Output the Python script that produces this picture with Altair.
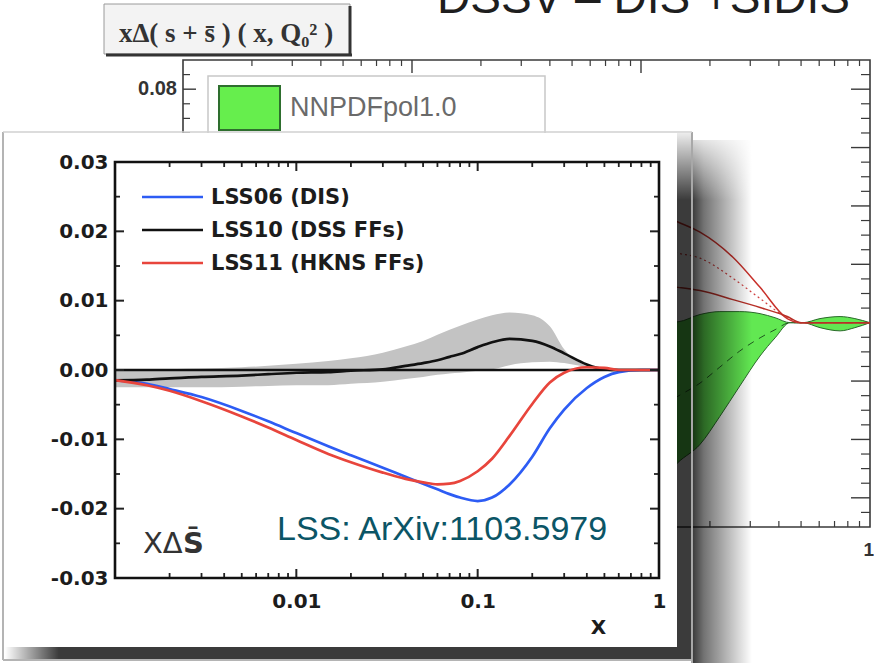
import altair as alt
import pandas as pd

# ---------------- LSS panel: x grid and curves ----------------
x_grid = [0.001, 0.0015, 0.002, 0.003, 0.005, 0.007, 0.01, 0.015, 0.02, 0.03,
          0.04, 0.05, 0.06, 0.07, 0.08, 0.1, 0.12, 0.15, 0.2, 0.25, 0.3, 0.4,
          0.5, 0.6, 0.8, 1.0]
lss06_dis = [-0.00145, -0.0020, -0.00275, -0.0039, -0.0059, -0.0074, -0.0091, -0.0110, -0.0123, -0.0141,
             -0.0154, -0.0164, -0.0172, -0.0179, -0.0184, -0.0189, -0.0184, -0.0165, -0.0125, -0.0084,
             -0.0057, -0.0026, -0.0010, -0.0003, 0.0, 0.0]
lss10_dss = [-0.0015, -0.0014, -0.0012, -0.0010, -0.0008, -0.0006, -0.0004, -0.0003, -0.0001, 0.0001,
             0.0006, 0.0010, 0.0014, 0.0019, 0.0023, 0.0033, 0.0040, 0.0045, 0.0042, 0.0034,
             0.0024, 0.0008, 0.0001, 0.0, 0.0, 0.0]
lss11_hkns = [-0.00145, -0.0022, -0.0030, -0.0045, -0.0067, -0.0083, -0.0101, -0.0121, -0.0133, -0.0148,
              -0.0157, -0.0162, -0.0165, -0.0164, -0.0160, -0.0146, -0.0128, -0.0095, -0.0049, -0.0018,
              -0.0004, 0.0004, 0.0003, 0.0, 0.0, 0.0]
lss10_band_hi = [0.0, 0.0, 0.0001, 0.0002, 0.0004, 0.0006, 0.0009, 0.0013, 0.0017, 0.0025,
                 0.0034, 0.0042, 0.0051, 0.0058, 0.0064, 0.0073, 0.0079, 0.0083, 0.0079, 0.0063,
                 0.0030, 0.0006, 0.0001, 0.0, 0.0, 0.0]
lss10_band_lo = [-0.0025, -0.0025, -0.0025, -0.0025, -0.0024, -0.0023, -0.0022, -0.0022, -0.0020, -0.0017,
                 -0.0013, -0.0010, -0.0007, -0.0005, -0.0004, -0.0001, 0.0001, 0.0007, 0.0011, 0.0012,
                 0.0010, 0.0004, 0.0, 0.0, 0.0, 0.0]
series_names = ["LSS06 (DIS)", "LSS10 (DSS FFs)", "LSS11 (HKNS FFs)"]
series_colors = ["#2d5cf4", "#111111", "#e8453c"]
y_tick_values = [-0.03, -0.02, -0.01, 0.0, 0.01, 0.02, 0.03]
y_minor_values = [-0.025, -0.015, -0.005, 0.005, 0.015, 0.025]
x_tick_values = [0.01, 0.1, 1.0]
x_minor_values = [0.002, 0.003, 0.004, 0.005, 0.006, 0.007, 0.008, 0.009,
                  0.02, 0.03, 0.04, 0.05, 0.06, 0.07, 0.08, 0.09,
                  0.2, 0.3, 0.4, 0.5, 0.6, 0.7, 0.8, 0.9]

# ---------------- background slide plot (NNPDF / DSSV) ----------------
nnpdf_x = [0.1, 0.121, 0.145, 0.181, 0.221, 0.270, 0.331, 0.385, 0.448, 0.509, 0.605, 0.740, 0.859, 1.0]
nnpdf_hi = [0.0, 0.0, 0.0003, 0.0028, 0.0038, 0.0038, 0.0031, 0.0017, 0.0, 0.0, 0.0014, 0.0021, 0.0014, 0.0]
nnpdf_lo = [-0.059, -0.0545, -0.0479, -0.0417, -0.0321, -0.0217, -0.0114, -0.0052, 0.0, 0.0,
            -0.0017, -0.0028, -0.0017, 0.0]
nnpdf_mid_x = [0.1, 0.145, 0.181, 0.221, 0.270, 0.331, 0.385, 0.448, 0.6, 1.0]
nnpdf_mid = [-0.033, -0.0252, -0.0207, -0.0152, -0.0097, -0.0052, -0.0024, 0.0, 0.0, 0.0]
dssv_x = [0.1, 0.121, 0.145, 0.181, 0.252, 0.331, 0.435, 0.5, 0.7, 1.0]
dssv_upper = [0.0403, 0.0372, 0.0345, 0.0310, 0.0224, 0.0121, 0.0014, 0.0, 0.0, 0.0]
dssv_central = [0.0266, 0.0252, 0.0238, 0.0221, 0.0152, 0.0083, 0.0017, 0.0, 0.0, 0.0]
dssv_lower = [0.0138, 0.0128, 0.0121, 0.0110, 0.0079, 0.0052, 0.0021, 0.0, 0.0, 0.0]
bg_y_major = [-0.06, -0.04, -0.02, 0.0, 0.02, 0.04, 0.06, 0.08]
bg_y_minor = [-0.065, -0.055, -0.05, -0.045, -0.035, -0.03, -0.025, -0.015, -0.01, -0.005,
              0.005, 0.01, 0.015, 0.025, 0.03, 0.035, 0.045, 0.05, 0.055, 0.065, 0.07, 0.075, 0.085]
bg_x_major = [0.01, 0.1]

# ---------------- layout constants ----------------
OX, OY = 115, 162      # page position of the LSS plot area
W, H = 544, 416
FONT = "DejaVu Sans"

one = pd.DataFrame({"k": [0]})


def deco_rect(x1, y1, x2, y2, **kw):
    return alt.Chart(one).mark_rect(**kw).encode(
        x=alt.value(x1 - OX), x2=alt.value(x2 - OX),
        y=alt.value(y1 - OY), y2=alt.value(y2 - OY))


def deco_rule(x1, y1, x2, y2, **kw):
    return alt.Chart(one).mark_rule(**kw).encode(
        x=alt.value(x1 - OX), x2=alt.value(x2 - OX),
        y=alt.value(y1 - OY), y2=alt.value(y2 - OY))


def deco_text(s, x, y, **kw):
    return alt.Chart(one).mark_text(text=s, **kw).encode(
        x=alt.value(x - OX), y=alt.value(y - OY))


def grad(stops, horizontal=True):
    return alt.LinearGradient(
        gradient="linear",
        stops=[alt.GradientStop(color=c, offset=o) for o, c in stops],
        x1=0, y1=0, x2=1 if horizontal else 0, y2=0 if horizontal else 1)


# ======================= background plot =======================
bgx = alt.Scale(type="log", domain=[0.001, 1], range=[183 - OX, 870 - OX], nice=False)
bgy = alt.Scale(domain=[-0.07, 0.09], range=[527 - OY, 60 - OY], nice=False, zero=False)
BGC = "#3a3a3a"

bg_title = deco_text("DSSV – DIS +SIDIS", 437, 13, align="left", baseline="alphabetic",
                     font="Liberation Sans", fontSize=46, color="#1e1e1e")
bg_box = deco_rect(104, 4, 350, 54, fill="#f3f3f3", stroke="#9a9a9a", strokeWidth=1)
bg_box_r = deco_rule(350, 6, 350, 56, color="#333333", strokeWidth=3)
bg_box_b = deco_rule(106, 55, 352, 55, color="#333333", strokeWidth=3)
bg_box_txt = deco_text("xΔ( s + s\u0304 ) ( x, Q\u2080\u00b2 )", 226, 42, align="center",
                       baseline="alphabetic", font="Liberation Serif", fontWeight="bold",
                       fontSize=27, color="#333333")

bg_frame = alt.Chart(pd.DataFrame({"x0": [0.001], "x1": [1.0], "y0": [-0.07], "y1": [0.09]})).mark_rect(
    fillOpacity=0, stroke=BGC, strokeWidth=1.6).encode(
    x=alt.X("x0:Q", scale=bgx, axis=None), x2="x1",
    y=alt.Y("y0:Q", scale=bgy, axis=None), y2="y1")

bg_minor_df = pd.DataFrame({"v": x_minor_values})
bg_major_df = pd.DataFrame({"v": bg_x_major})
bg_top_minor = alt.Chart(bg_minor_df).mark_rule(color=BGC, strokeWidth=1.2).encode(
    x=alt.X("v:Q", scale=bgx, axis=None), y=alt.value(60 - OY), y2=alt.value(66 - OY))
bg_top_major = alt.Chart(bg_major_df).mark_rule(color=BGC, strokeWidth=1.4).encode(
    x=alt.X("v:Q", scale=bgx, axis=None), y=alt.value(60 - OY), y2=alt.value(73 - OY))
bg_bot_minor = alt.Chart(bg_minor_df).mark_rule(color=BGC, strokeWidth=1.2).encode(
    x=alt.X("v:Q", scale=bgx, axis=None), y=alt.value(527 - OY), y2=alt.value(521 - OY))
bgy_major_df = pd.DataFrame({"v": bg_y_major})
bgy_minor_df = pd.DataFrame({"v": bg_y_minor})
bg_right_major = alt.Chart(bgy_major_df).mark_rule(color=BGC, strokeWidth=1.4).encode(
    y=alt.Y("v:Q", scale=bgy, axis=None), x=alt.value(851 - OX), x2=alt.value(870 - OX))
bg_right_minor = alt.Chart(bgy_minor_df).mark_rule(color=BGC, strokeWidth=1.2).encode(
    y=alt.Y("v:Q", scale=bgy, axis=None), x=alt.value(861 - OX), x2=alt.value(870 - OX))
bg_left_major = alt.Chart(bgy_major_df).mark_rule(color=BGC, strokeWidth=1.4).encode(
    y=alt.Y("v:Q", scale=bgy, axis=None), x=alt.value(183 - OX), x2=alt.value(196 - OX))
bg_left_minor = alt.Chart(bgy_minor_df).mark_rule(color=BGC, strokeWidth=1.2).encode(
    y=alt.Y("v:Q", scale=bgy, axis=None), x=alt.value(183 - OX), x2=alt.value(190 - OX))
bg_lab_y = alt.Chart(pd.DataFrame({"v": [0.08]})).mark_text(
    text="0.08", align="right", baseline="middle", font="Liberation Sans", fontWeight="bold",
    fontSize=20, color="#333333", dx=-6).encode(
    y=alt.Y("v:Q", scale=bgy, axis=None), x=alt.value(183 - OX))
bg_lab_x = alt.Chart(pd.DataFrame({"v": [1.0]})).mark_text(
    text="1", align="right", baseline="middle", font="Liberation Sans", fontWeight="bold",
    fontSize=19, color="#333333", dx=4).encode(
    x=alt.X("v:Q", scale=bgx, axis=None), y=alt.value(550 - OY))

nn_df = pd.DataFrame({"x": nnpdf_x, "hi": nnpdf_hi, "lo": nnpdf_lo})
bg_green = alt.Chart(nn_df).mark_area(
    color="#62e852", opacity=1, interpolate="monotone", stroke="#2a6a2a", strokeWidth=1).encode(
    x=alt.X("x:Q", scale=bgx, axis=None), y=alt.Y("lo:Q", scale=bgy, axis=None), y2="hi")
bg_green_mid = alt.Chart(pd.DataFrame({"x": nnpdf_mid_x, "y": nnpdf_mid})).mark_line(
    color="#1f5a1f", strokeWidth=1, strokeDash=[7, 6], interpolate="monotone").encode(
    x=alt.X("x:Q", scale=bgx, axis=None), y=alt.Y("y:Q", scale=bgy, axis=None))

dssv_df = pd.DataFrame({"x": dssv_x, "up": dssv_upper, "mid": dssv_central, "lo": dssv_lower})
bg_red_up = alt.Chart(dssv_df).mark_line(color="#c8302a", strokeWidth=1.5, interpolate="monotone").encode(
    x=alt.X("x:Q", scale=bgx, axis=None), y=alt.Y("up:Q", scale=bgy, axis=None))
bg_red_mid = alt.Chart(dssv_df).mark_line(color="#d04040", strokeWidth=1.2, strokeDash=[2, 3],
                                          interpolate="monotone").encode(
    x=alt.X("x:Q", scale=bgx, axis=None), y=alt.Y("mid:Q", scale=bgy, axis=None))
bg_red_lo = alt.Chart(dssv_df).mark_line(color="#b83028", strokeWidth=1.5, interpolate="monotone").encode(
    x=alt.X("x:Q", scale=bgx, axis=None), y=alt.Y("lo:Q", scale=bgy, axis=None))

bg_leg_box = deco_rect(208, 76, 545, 220, fill="white", stroke="#c8c8c8", strokeWidth=1.5)
bg_leg_sw = deco_rect(219, 86, 280, 130, fill="#66ee4d", stroke="#2e6e2e", strokeWidth=2)
bg_leg_txt = deco_text("NNPDFpol1.0", 290, 108, align="left", baseline="middle",
                       font="Liberation Sans", fontSize=27, color="#6a6a6a")

background = alt.layer(
    bg_title, bg_box, bg_box_r, bg_box_b, bg_box_txt,
    bg_frame, bg_top_minor, bg_top_major, bg_bot_minor, bg_right_major, bg_right_minor,
    bg_left_major, bg_left_minor, bg_lab_y, bg_lab_x,
    bg_green, bg_green_mid, bg_red_up, bg_red_mid, bg_red_lo,
    bg_leg_box, bg_leg_sw, bg_leg_txt)

# ======================= picture frame / shadow =======================
shadow_out = deco_rect(692, 140, 752, 663, fill=grad([(0, "rgba(0,0,0,0.78)"), (0.2, "rgba(0,0,0,0.55)"),
                                                       (1, "rgba(0,0,0,0)")]))
shadow_right = deco_rect(677, 133, 692, 660, fill="rgba(0,0,0,0.77)")
shadow_bottom = deco_rect(5, 647, 677, 660, fill=grad([(0, "rgba(0,0,0,0)"), (0.08, "rgba(0,0,0,0.77)"),
                                                         (1, "rgba(0,0,0,0.77)")]))
shadow_fade = deco_rect(676, 126, 757, 200, fill=grad([(0, "rgba(255,255,255,1)"),
                                                         (1, "rgba(255,255,255,0)")], horizontal=False))
panel = deco_rect(5, 133, 677, 647, fill="white")
fr_left = deco_rule(3, 132, 3, 660, color="#b4b4b4", strokeWidth=2)
fr_right = deco_rule(692, 132, 692, 663, color="#a8a8a8", strokeWidth=2)
fr_bottom = deco_rule(3, 660, 692, 660, color="#b4b4b4", strokeWidth=2)
fr_top = deco_rule(3, 132, 692, 132, color="#d0d0d0", strokeWidth=1.5)

decor = alt.layer(shadow_out, shadow_right, shadow_bottom, shadow_fade, panel,
                  fr_left, fr_right, fr_bottom, fr_top)

# ======================= LSS plot =======================
mx = alt.Scale(type="log", domain=[0.001, 1], nice=False)
my = alt.Scale(domain=[-0.03, 0.03], nice=False, zero=False)
xax = alt.Axis(values=x_tick_values, labelExpr="format(datum.value, '~g')", ticks=False, tickSize=0,
               domain=False, grid=False, labelFont=FONT, labelFontWeight="bold", labelFontSize=20,
               labelColor="#1c1c1c", labelPadding=13, labelFlush=False, labelOverlap=False,
               title="X", titleFont=FONT, titleFontWeight="bold", titleFontSize=20, titleColor="#1c1c1c",
               titleX=483, titleY=55, titleAlign="center", titleBaseline="alphabetic", zindex=1)
yax = alt.Axis(values=y_tick_values,
               labelExpr="datum.value < 0 ? '-' + format(-datum.value, '.2f') : format(datum.value, '.2f')",
               ticks=False, tickSize=0, domain=False, grid=False, labelFont=FONT, labelFontWeight="bold",
               labelFontSize=20, labelColor="#1c1c1c", labelPadding=7, title=None, zindex=1)

band_df = pd.DataFrame({"x": x_grid, "hi": lss10_band_hi, "lo": lss10_band_lo})
band = alt.Chart(band_df).mark_area(color="#c3c3c3", opacity=1, interpolate="monotone").encode(
    x=alt.X("x:Q", scale=mx, axis=xax), y=alt.Y("lo:Q", scale=my, axis=yax), y2="hi")

zero = alt.Chart(pd.DataFrame({"v": [0.0]})).mark_rule(color="#111111", strokeWidth=2.4).encode(
    y=alt.Y("v:Q", scale=my, axis=yax))

rows = []
for name, vals in zip(series_names, [lss06_dis, lss10_dss, lss11_hkns]):
    for xv, yv in zip(x_grid, vals):
        rows.append({"series": name, "x": xv, "y": yv})
lines_df = pd.DataFrame(rows)
lines = alt.Chart(lines_df).mark_line(strokeWidth=2.7, interpolate="monotone").encode(
    x=alt.X("x:Q", scale=mx, axis=xax), y=alt.Y("y:Q", scale=my, axis=yax),
    color=alt.Color("series:N", scale=alt.Scale(domain=series_names, range=series_colors), legend=None))

TC = "#222222"
xmaj_df = pd.DataFrame({"v": x_tick_values[:-1]})
xmin_df = pd.DataFrame({"v": x_minor_values})
ymaj_df = pd.DataFrame({"v": y_tick_values[1:-1]})
ymin_df = pd.DataFrame({"v": y_minor_values})
ticks = [
    alt.Chart(xmaj_df).mark_rule(color=TC, strokeWidth=2).encode(
        x=alt.X("v:Q", scale=mx, axis=xax), y=alt.value(H), y2=alt.value(H - 9)),
    alt.Chart(xmaj_df).mark_rule(color=TC, strokeWidth=2).encode(
        x=alt.X("v:Q", scale=mx, axis=xax), y=alt.value(0), y2=alt.value(9)),
    alt.Chart(xmin_df).mark_rule(color=TC, strokeWidth=1.8).encode(
        x=alt.X("v:Q", scale=mx, axis=xax), y=alt.value(H), y2=alt.value(H - 5)),
    alt.Chart(xmin_df).mark_rule(color=TC, strokeWidth=1.8).encode(
        x=alt.X("v:Q", scale=mx, axis=xax), y=alt.value(0), y2=alt.value(5)),
    alt.Chart(ymaj_df).mark_rule(color=TC, strokeWidth=2).encode(
        y=alt.Y("v:Q", scale=my, axis=yax), x=alt.value(0), x2=alt.value(9)),
    alt.Chart(ymaj_df).mark_rule(color=TC, strokeWidth=2).encode(
        y=alt.Y("v:Q", scale=my, axis=yax), x=alt.value(W - 9), x2=alt.value(W)),
    alt.Chart(ymin_df).mark_rule(color=TC, strokeWidth=1.8).encode(
        y=alt.Y("v:Q", scale=my, axis=yax), x=alt.value(0), x2=alt.value(5)),
    alt.Chart(ymin_df).mark_rule(color=TC, strokeWidth=1.8).encode(
        y=alt.Y("v:Q", scale=my, axis=yax), x=alt.value(W - 5), x2=alt.value(W)),
]

frame = alt.Chart(pd.DataFrame({"x0": [0.001], "x1": [1.0], "y0": [-0.03], "y1": [0.03]})).mark_rect(
    fillOpacity=0, stroke="#111111", strokeWidth=2.6).encode(
    x=alt.X("x0:Q", scale=mx, axis=xax), x2="x1",
    y=alt.Y("y0:Q", scale=my, axis=yax), y2="y1")

legend_parts = []
for i, (name, col) in enumerate(zip(series_names, series_colors)):
    yy = 35 + 33 * i
    legend_parts.append(alt.Chart(one).mark_rule(color=col, strokeWidth=2.7).encode(
        x=alt.value(27), x2=alt.value(88), y=alt.value(yy), y2=alt.value(yy)))
    legend_parts.append(alt.Chart(one).mark_text(
        text=name, align="left", baseline="middle", font=FONT, fontWeight="bold",
        fontSize=21, color="#1c1c1c").encode(x=alt.value(96), y=alt.value(yy + 1)))

lab_xd = deco_text("XΔ", 143, 553, align="left", baseline="alphabetic", font=FONT,
                   fontSize=29, color="#333333")
lab_s = deco_text("S\u0304", 183, 553, align="left", baseline="alphabetic", font=FONT,
                  fontWeight="bold", fontSize=29, color="#333333")
lab_ref = deco_text("LSS: ArXiv:1103.5979", 277, 540, align="left", baseline="alphabetic",
                    font="Liberation Sans", fontSize=34, color="#0b5566")

lss = alt.layer(band, zero, lines, *ticks, frame, *legend_parts, lab_xd, lab_s, lab_ref)

chart = alt.layer(background, decor, lss).resolve_scale(
    x="independent", y="independent"
).properties(
    width=W, height=H,
    padding={"left": OX, "top": OY, "right": 874 - OX - W, "bottom": 663 - OY - H},
    autosize=alt.AutoSizeParams(type="none"),
    background="white",
).configure_view(stroke="transparent")

chart.save("out.html", embed_options={"renderer": "svg", "actions": False})
